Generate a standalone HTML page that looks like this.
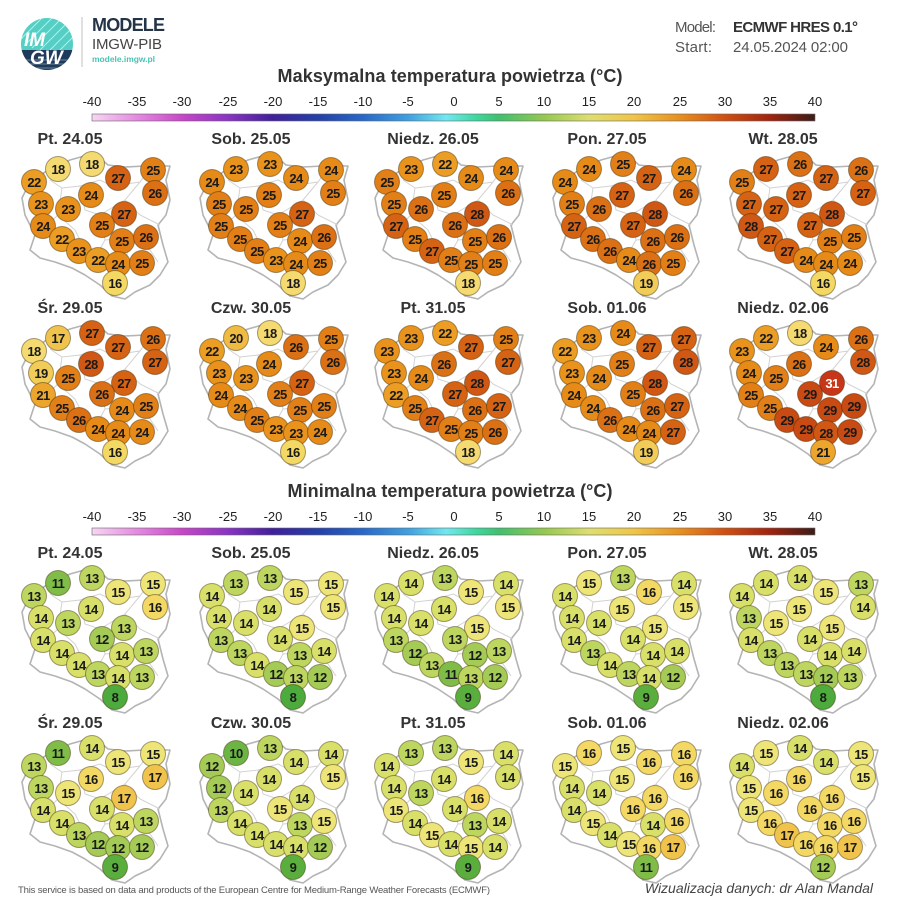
<!DOCTYPE html>
<html><head><meta charset="utf-8"><style>
html,body{margin:0;padding:0;background:#fff}
svg{display:block}
text{font-family:"Liberation Sans",sans-serif}
.t{font-weight:bold;font-size:16px;fill:#333;text-anchor:middle}
.v{font-weight:bold;font-size:13px;fill:#1a1a1a;text-anchor:middle;letter-spacing:-0.6px}
.lb{font-size:13px;fill:#222;text-anchor:middle}
circle{stroke:rgba(60,40,0,0.45);stroke-width:1}
.c8{fill:#4daa3c}.c9{fill:#5aae3e}.c10{fill:#6cb544}.c11{fill:#80bd48}.c12{fill:#a3cb55}.c13{fill:#bdd65f}.c14{fill:#d8e06a}.c15{fill:#eee578}.c16{fill:#f3d864}.c17{fill:#f0c44c}.c18{fill:#f4da70}.c19{fill:#f1cc58}.c20{fill:#efbb43}.c21{fill:#eca52d}.c22{fill:#eb9d24}.c23{fill:#e9931c}.c24{fill:#e68a18}.c25{fill:#e27f17}.c26{fill:#dc7015}.c27{fill:#d66214}.c28{fill:#d05814}.c29{fill:#c94a13}.c31{fill:#c8361a}
.pl{fill:#fff;stroke:#b4b4b4;stroke-width:1.6;stroke-linejoin:round}
.il{fill:none;stroke:#d2d2d2;stroke-width:1}
</style></head><body>
<svg width="900" height="900" viewBox="0 0 900 900" xmlns="http://www.w3.org/2000/svg">
<defs>
<linearGradient id="cb" x1="0" x2="1" y1="0" y2="0">
<stop offset="0" stop-color="#f6d6f2"/><stop offset="0.0625" stop-color="#e48ae0"/><stop offset="0.125" stop-color="#c846c8"/><stop offset="0.1875" stop-color="#8a34c4"/><stop offset="0.25" stop-color="#40209a"/><stop offset="0.3125" stop-color="#2440a8"/><stop offset="0.375" stop-color="#2868c8"/><stop offset="0.4375" stop-color="#40a0e0"/><stop offset="0.49" stop-color="#70e8f0"/><stop offset="0.53" stop-color="#40d8a0"/><stop offset="0.5625" stop-color="#40c070"/><stop offset="0.625" stop-color="#94c850"/><stop offset="0.6875" stop-color="#dede70"/><stop offset="0.75" stop-color="#f0c448"/><stop offset="0.8125" stop-color="#e89020"/><stop offset="0.875" stop-color="#d05012"/><stop offset="0.9375" stop-color="#a02410"/><stop offset="1" stop-color="#3c1c18"/>
</linearGradient>
<g id="pol">
<path class="pl" d="M28,186 L45,172 L70,160 L88,155 L100,158 L108,165 L125,167 L145,166 L170,166 L166,180 L170,200 L166,215 L158,225 L163,245 L168,262 L160,275 L150,285 L135,292 L125,299 L112,296 L100,285 L85,275 L72,268 L55,262 L40,258 L30,250 L35,235 L25,215 L22,198 Z"/>
<path class="il" d="M50,180 L62,188 L80,186 L100,180 L112,186 L140,182 L150,168 M62,188 L58,215 L40,232 M80,186 L85,210 L100,215 L125,200 L140,182 M100,215 L105,240 L95,258 M125,200 L140,215 L160,225 M105,240 L130,238 L150,250 L158,262 M58,215 L75,230 L85,250 L78,262 M130,238 L125,265 L118,290"/>
</g>
</defs>

<!-- header -->
<clipPath id="lc"><circle cx="47" cy="44" r="26"/></clipPath>
<g clip-path="url(#lc)">
<rect x="20" y="17" width="55" height="55" fill="#55cfc4"/>
<rect x="20" y="50" width="55" height="25" fill="#1f3b5c"/>
<g stroke="#fff" stroke-width="1" opacity="0.6"><line x1="20" y1="40" x2="45" y2="15"/><line x1="25" y1="45" x2="52" y2="18"/><line x1="32" y1="48" x2="62" y2="18"/><line x1="40" y1="50" x2="72" y2="18"/><line x1="50" y1="50" x2="78" y2="22"/><line x1="60" y1="50" x2="80" y2="30"/></g>
<g stroke="#fff" stroke-width="0.8" opacity="0.5"><line x1="20" y1="60" x2="75" y2="60"/><line x1="20" y1="64" x2="75" y2="64"/><line x1="20" y1="68" x2="75" y2="68"/></g>
</g>
<text x="24" y="46" font-size="19" font-weight="bold" fill="#fff" font-style="italic">IM</text>
<text x="30" y="64" font-size="19" font-weight="bold" fill="#fff" font-style="italic">GW</text>
<line x1="82" y1="17" x2="82" y2="67" stroke="#ccc" stroke-width="1.2"/>
<text x="92" y="31" font-size="18" font-weight="bold" fill="#243447" textLength="73">MODELE</text>
<text x="92" y="49" font-size="15" fill="#444" textLength="70">IMGW-PIB</text>
<text x="92" y="62" font-size="8.5" font-weight="bold" fill="#4cc3b5" textLength="63">modele.imgw.pl</text>
<text x="675" y="32" font-size="15" fill="#555" textLength="41">Model:</text>
<text x="733" y="32" font-size="15" font-weight="bold" fill="#333" textLength="125">ECMWF HRES 0.1°</text>
<text x="675" y="52" font-size="15" fill="#555" textLength="37">Start:</text>
<text x="733" y="52" font-size="15" fill="#555" textLength="115">24.05.2024 02:00</text>

<!-- max colorbar -->
<text x="450" y="82" font-size="18" font-weight="bold" fill="#333" text-anchor="middle" textLength="345">Maksymalna temperatura powietrza (°C)</text>
<g class="lb">
<text class="lb" x="92" y="106">-40</text><text class="lb" x="137" y="106">-35</text><text class="lb" x="182" y="106">-30</text><text class="lb" x="228" y="106">-25</text><text class="lb" x="273" y="106">-20</text><text class="lb" x="318" y="106">-15</text><text class="lb" x="363" y="106">-10</text><text class="lb" x="408" y="106">-5</text><text class="lb" x="454" y="106">0</text><text class="lb" x="499" y="106">5</text><text class="lb" x="544" y="106">10</text><text class="lb" x="589" y="106">15</text><text class="lb" x="634" y="106">20</text><text class="lb" x="680" y="106">25</text><text class="lb" x="725" y="106">30</text><text class="lb" x="770" y="106">35</text><text class="lb" x="815" y="106">40</text>
</g>
<rect x="92" y="114" width="723" height="7" fill="url(#cb)" stroke="#666" stroke-width="0.6"/>

<!-- min colorbar -->
<text x="450" y="497" font-size="18" font-weight="bold" fill="#333" text-anchor="middle" textLength="325">Minimalna temperatura powietrza (°C)</text>
<text class="lb" x="92" y="521">-40</text><text class="lb" x="137" y="521">-35</text><text class="lb" x="182" y="521">-30</text><text class="lb" x="228" y="521">-25</text><text class="lb" x="273" y="521">-20</text><text class="lb" x="318" y="521">-15</text><text class="lb" x="363" y="521">-10</text><text class="lb" x="408" y="521">-5</text><text class="lb" x="454" y="521">0</text><text class="lb" x="499" y="521">5</text><text class="lb" x="544" y="521">10</text><text class="lb" x="589" y="521">15</text><text class="lb" x="634" y="521">20</text><text class="lb" x="680" y="521">25</text><text class="lb" x="725" y="521">30</text><text class="lb" x="770" y="521">35</text><text class="lb" x="815" y="521">40</text>
<rect x="92" y="528" width="723" height="7" fill="url(#cb)" stroke="#666" stroke-width="0.6"/>

<!-- titles -->
<text class="t" x="70" y="144">Pt. 24.05</text><text class="t" x="251" y="144">Sob. 25.05</text><text class="t" x="433" y="144">Niedz. 26.05</text><text class="t" x="607" y="144">Pon. 27.05</text><text class="t" x="783" y="144">Wt. 28.05</text>
<text class="t" x="70" y="313">Śr. 29.05</text><text class="t" x="251" y="313">Czw. 30.05</text><text class="t" x="433" y="313">Pt. 31.05</text><text class="t" x="607" y="313">Sob. 01.06</text><text class="t" x="783" y="313">Niedz. 02.06</text>
<text class="t" x="70" y="558">Pt. 24.05</text><text class="t" x="251" y="558">Sob. 25.05</text><text class="t" x="433" y="558">Niedz. 26.05</text><text class="t" x="607" y="558">Pon. 27.05</text><text class="t" x="783" y="558">Wt. 28.05</text>
<text class="t" x="70" y="728">Śr. 29.05</text><text class="t" x="251" y="728">Czw. 30.05</text><text class="t" x="433" y="728">Pt. 31.05</text><text class="t" x="607" y="728">Sob. 01.06</text><text class="t" x="783" y="728">Niedz. 02.06</text>

<!-- ROW 0 MAX -->
<g transform="translate(0,0)"><use href="#pol"/>
<circle cx="58" cy="169" r="12.5" class="c18"/><text class="v" x="58" y="174">18</text>
<circle cx="92" cy="164" r="12.5" class="c18"/><text class="v" x="92" y="169">18</text>
<circle cx="34" cy="182" r="12.5" class="c22"/><text class="v" x="34" y="187">22</text>
<circle cx="118" cy="178" r="12.5" class="c27"/><text class="v" x="118" y="183">27</text>
<circle cx="153" cy="170" r="12.5" class="c25"/><text class="v" x="153" y="175">25</text>
<circle cx="155" cy="193" r="12.5" class="c26"/><text class="v" x="155" y="198">26</text>
<circle cx="91" cy="195" r="12.5" class="c24"/><text class="v" x="91" y="200">24</text>
<circle cx="41" cy="204" r="12.5" class="c23"/><text class="v" x="41" y="209">23</text>
<circle cx="68" cy="209" r="12.5" class="c23"/><text class="v" x="68" y="214">23</text>
<circle cx="124" cy="214" r="12.5" class="c27"/><text class="v" x="124" y="219">27</text>
<circle cx="43" cy="226" r="12.5" class="c24"/><text class="v" x="43" y="231">24</text>
<circle cx="102" cy="225" r="12.5" class="c25"/><text class="v" x="102" y="230">25</text>
<circle cx="62" cy="239" r="12.5" class="c22"/><text class="v" x="62" y="244">22</text>
<circle cx="122" cy="241" r="12.5" class="c25"/><text class="v" x="122" y="246">25</text>
<circle cx="146" cy="237" r="12.5" class="c26"/><text class="v" x="146" y="242">26</text>
<circle cx="79" cy="251" r="12.5" class="c23"/><text class="v" x="79" y="256">23</text>
<circle cx="98" cy="260" r="12.5" class="c22"/><text class="v" x="98" y="265">22</text>
<circle cx="118" cy="264" r="12.5" class="c24"/><text class="v" x="118" y="269">24</text>
<circle cx="142" cy="263" r="12.5" class="c25"/><text class="v" x="142" y="268">25</text>
<circle cx="115" cy="283" r="12.5" class="c16"/><text class="v" x="115" y="288">16</text>
</g>
<g transform="translate(178,0)"><use href="#pol"/>
<circle cx="58" cy="169" r="12.5" class="c23"/><text class="v" x="58" y="174">23</text>
<circle cx="92" cy="164" r="12.5" class="c23"/><text class="v" x="92" y="169">23</text>
<circle cx="34" cy="182" r="12.5" class="c24"/><text class="v" x="34" y="187">24</text>
<circle cx="118" cy="178" r="12.5" class="c24"/><text class="v" x="118" y="183">24</text>
<circle cx="153" cy="170" r="12.5" class="c24"/><text class="v" x="153" y="175">24</text>
<circle cx="155" cy="193" r="12.5" class="c25"/><text class="v" x="155" y="198">25</text>
<circle cx="91" cy="195" r="12.5" class="c25"/><text class="v" x="91" y="200">25</text>
<circle cx="41" cy="204" r="12.5" class="c25"/><text class="v" x="41" y="209">25</text>
<circle cx="68" cy="209" r="12.5" class="c25"/><text class="v" x="68" y="214">25</text>
<circle cx="124" cy="214" r="12.5" class="c27"/><text class="v" x="124" y="219">27</text>
<circle cx="43" cy="226" r="12.5" class="c25"/><text class="v" x="43" y="231">25</text>
<circle cx="102" cy="225" r="12.5" class="c25"/><text class="v" x="102" y="230">25</text>
<circle cx="62" cy="239" r="12.5" class="c25"/><text class="v" x="62" y="244">25</text>
<circle cx="122" cy="241" r="12.5" class="c24"/><text class="v" x="122" y="246">24</text>
<circle cx="146" cy="237" r="12.5" class="c26"/><text class="v" x="146" y="242">26</text>
<circle cx="79" cy="251" r="12.5" class="c25"/><text class="v" x="79" y="256">25</text>
<circle cx="98" cy="260" r="12.5" class="c23"/><text class="v" x="98" y="265">23</text>
<circle cx="118" cy="264" r="12.5" class="c24"/><text class="v" x="118" y="269">24</text>
<circle cx="142" cy="263" r="12.5" class="c25"/><text class="v" x="142" y="268">25</text>
<circle cx="115" cy="283" r="12.5" class="c18"/><text class="v" x="115" y="288">18</text>
</g>
<g transform="translate(353,0)"><use href="#pol"/>
<circle cx="58" cy="169" r="12.5" class="c23"/><text class="v" x="58" y="174">23</text>
<circle cx="92" cy="164" r="12.5" class="c22"/><text class="v" x="92" y="169">22</text>
<circle cx="34" cy="182" r="12.5" class="c25"/><text class="v" x="34" y="187">25</text>
<circle cx="118" cy="178" r="12.5" class="c24"/><text class="v" x="118" y="183">24</text>
<circle cx="153" cy="170" r="12.5" class="c24"/><text class="v" x="153" y="175">24</text>
<circle cx="155" cy="193" r="12.5" class="c26"/><text class="v" x="155" y="198">26</text>
<circle cx="91" cy="195" r="12.5" class="c25"/><text class="v" x="91" y="200">25</text>
<circle cx="41" cy="204" r="12.5" class="c25"/><text class="v" x="41" y="209">25</text>
<circle cx="68" cy="209" r="12.5" class="c26"/><text class="v" x="68" y="214">26</text>
<circle cx="124" cy="214" r="12.5" class="c28"/><text class="v" x="124" y="219">28</text>
<circle cx="43" cy="226" r="12.5" class="c27"/><text class="v" x="43" y="231">27</text>
<circle cx="102" cy="225" r="12.5" class="c26"/><text class="v" x="102" y="230">26</text>
<circle cx="62" cy="239" r="12.5" class="c25"/><text class="v" x="62" y="244">25</text>
<circle cx="122" cy="241" r="12.5" class="c25"/><text class="v" x="122" y="246">25</text>
<circle cx="146" cy="237" r="12.5" class="c26"/><text class="v" x="146" y="242">26</text>
<circle cx="79" cy="251" r="12.5" class="c27"/><text class="v" x="79" y="256">27</text>
<circle cx="98" cy="260" r="12.5" class="c25"/><text class="v" x="98" y="265">25</text>
<circle cx="118" cy="264" r="12.5" class="c25"/><text class="v" x="118" y="269">25</text>
<circle cx="142" cy="263" r="12.5" class="c25"/><text class="v" x="142" y="268">25</text>
<circle cx="115" cy="283" r="12.5" class="c18"/><text class="v" x="115" y="288">18</text>
</g>
<g transform="translate(531,0)"><use href="#pol"/>
<circle cx="58" cy="169" r="12.5" class="c24"/><text class="v" x="58" y="174">24</text>
<circle cx="92" cy="164" r="12.5" class="c25"/><text class="v" x="92" y="169">25</text>
<circle cx="34" cy="182" r="12.5" class="c24"/><text class="v" x="34" y="187">24</text>
<circle cx="118" cy="178" r="12.5" class="c27"/><text class="v" x="118" y="183">27</text>
<circle cx="153" cy="170" r="12.5" class="c24"/><text class="v" x="153" y="175">24</text>
<circle cx="155" cy="193" r="12.5" class="c26"/><text class="v" x="155" y="198">26</text>
<circle cx="91" cy="195" r="12.5" class="c27"/><text class="v" x="91" y="200">27</text>
<circle cx="41" cy="204" r="12.5" class="c25"/><text class="v" x="41" y="209">25</text>
<circle cx="68" cy="209" r="12.5" class="c26"/><text class="v" x="68" y="214">26</text>
<circle cx="124" cy="214" r="12.5" class="c28"/><text class="v" x="124" y="219">28</text>
<circle cx="43" cy="226" r="12.5" class="c27"/><text class="v" x="43" y="231">27</text>
<circle cx="102" cy="225" r="12.5" class="c27"/><text class="v" x="102" y="230">27</text>
<circle cx="62" cy="239" r="12.5" class="c26"/><text class="v" x="62" y="244">26</text>
<circle cx="122" cy="241" r="12.5" class="c26"/><text class="v" x="122" y="246">26</text>
<circle cx="146" cy="237" r="12.5" class="c26"/><text class="v" x="146" y="242">26</text>
<circle cx="79" cy="251" r="12.5" class="c26"/><text class="v" x="79" y="256">26</text>
<circle cx="98" cy="260" r="12.5" class="c24"/><text class="v" x="98" y="265">24</text>
<circle cx="118" cy="264" r="12.5" class="c26"/><text class="v" x="118" y="269">26</text>
<circle cx="142" cy="263" r="12.5" class="c25"/><text class="v" x="142" y="268">25</text>
<circle cx="115" cy="283" r="12.5" class="c19"/><text class="v" x="115" y="288">19</text>
</g>
<g transform="translate(708,0)"><use href="#pol"/>
<circle cx="58" cy="169" r="12.5" class="c27"/><text class="v" x="58" y="174">27</text>
<circle cx="92" cy="164" r="12.5" class="c26"/><text class="v" x="92" y="169">26</text>
<circle cx="34" cy="182" r="12.5" class="c25"/><text class="v" x="34" y="187">25</text>
<circle cx="118" cy="178" r="12.5" class="c27"/><text class="v" x="118" y="183">27</text>
<circle cx="153" cy="170" r="12.5" class="c26"/><text class="v" x="153" y="175">26</text>
<circle cx="155" cy="193" r="12.5" class="c27"/><text class="v" x="155" y="198">27</text>
<circle cx="91" cy="195" r="12.5" class="c27"/><text class="v" x="91" y="200">27</text>
<circle cx="41" cy="204" r="12.5" class="c27"/><text class="v" x="41" y="209">27</text>
<circle cx="68" cy="209" r="12.5" class="c27"/><text class="v" x="68" y="214">27</text>
<circle cx="124" cy="214" r="12.5" class="c28"/><text class="v" x="124" y="219">28</text>
<circle cx="43" cy="226" r="12.5" class="c28"/><text class="v" x="43" y="231">28</text>
<circle cx="102" cy="225" r="12.5" class="c27"/><text class="v" x="102" y="230">27</text>
<circle cx="62" cy="239" r="12.5" class="c27"/><text class="v" x="62" y="244">27</text>
<circle cx="122" cy="241" r="12.5" class="c25"/><text class="v" x="122" y="246">25</text>
<circle cx="146" cy="237" r="12.5" class="c25"/><text class="v" x="146" y="242">25</text>
<circle cx="79" cy="251" r="12.5" class="c27"/><text class="v" x="79" y="256">27</text>
<circle cx="98" cy="260" r="12.5" class="c24"/><text class="v" x="98" y="265">24</text>
<circle cx="118" cy="264" r="12.5" class="c24"/><text class="v" x="118" y="269">24</text>
<circle cx="142" cy="263" r="12.5" class="c24"/><text class="v" x="142" y="268">24</text>
<circle cx="115" cy="283" r="12.5" class="c16"/><text class="v" x="115" y="288">16</text>
</g>

<!-- ROW 1 MAX -->
<g transform="translate(0,169)"><use href="#pol"/>
<circle cx="58" cy="169" r="12.5" class="c17"/><text class="v" x="58" y="174">17</text>
<circle cx="92" cy="164" r="12.5" class="c27"/><text class="v" x="92" y="169">27</text>
<circle cx="34" cy="182" r="12.5" class="c18"/><text class="v" x="34" y="187">18</text>
<circle cx="118" cy="178" r="12.5" class="c27"/><text class="v" x="118" y="183">27</text>
<circle cx="153" cy="170" r="12.5" class="c26"/><text class="v" x="153" y="175">26</text>
<circle cx="155" cy="193" r="12.5" class="c27"/><text class="v" x="155" y="198">27</text>
<circle cx="91" cy="195" r="12.5" class="c28"/><text class="v" x="91" y="200">28</text>
<circle cx="41" cy="204" r="12.5" class="c19"/><text class="v" x="41" y="209">19</text>
<circle cx="68" cy="209" r="12.5" class="c25"/><text class="v" x="68" y="214">25</text>
<circle cx="124" cy="214" r="12.5" class="c27"/><text class="v" x="124" y="219">27</text>
<circle cx="43" cy="226" r="12.5" class="c21"/><text class="v" x="43" y="231">21</text>
<circle cx="102" cy="225" r="12.5" class="c26"/><text class="v" x="102" y="230">26</text>
<circle cx="62" cy="239" r="12.5" class="c25"/><text class="v" x="62" y="244">25</text>
<circle cx="122" cy="241" r="12.5" class="c24"/><text class="v" x="122" y="246">24</text>
<circle cx="146" cy="237" r="12.5" class="c25"/><text class="v" x="146" y="242">25</text>
<circle cx="79" cy="251" r="12.5" class="c26"/><text class="v" x="79" y="256">26</text>
<circle cx="98" cy="260" r="12.5" class="c24"/><text class="v" x="98" y="265">24</text>
<circle cx="118" cy="264" r="12.5" class="c24"/><text class="v" x="118" y="269">24</text>
<circle cx="142" cy="263" r="12.5" class="c24"/><text class="v" x="142" y="268">24</text>
<circle cx="115" cy="283" r="12.5" class="c16"/><text class="v" x="115" y="288">16</text>
</g>
<g transform="translate(178,169)"><use href="#pol"/>
<circle cx="58" cy="169" r="12.5" class="c20"/><text class="v" x="58" y="174">20</text>
<circle cx="92" cy="164" r="12.5" class="c18"/><text class="v" x="92" y="169">18</text>
<circle cx="34" cy="182" r="12.5" class="c22"/><text class="v" x="34" y="187">22</text>
<circle cx="118" cy="178" r="12.5" class="c26"/><text class="v" x="118" y="183">26</text>
<circle cx="153" cy="170" r="12.5" class="c25"/><text class="v" x="153" y="175">25</text>
<circle cx="155" cy="193" r="12.5" class="c26"/><text class="v" x="155" y="198">26</text>
<circle cx="91" cy="195" r="12.5" class="c24"/><text class="v" x="91" y="200">24</text>
<circle cx="41" cy="204" r="12.5" class="c23"/><text class="v" x="41" y="209">23</text>
<circle cx="68" cy="209" r="12.5" class="c23"/><text class="v" x="68" y="214">23</text>
<circle cx="124" cy="214" r="12.5" class="c27"/><text class="v" x="124" y="219">27</text>
<circle cx="43" cy="226" r="12.5" class="c24"/><text class="v" x="43" y="231">24</text>
<circle cx="102" cy="225" r="12.5" class="c25"/><text class="v" x="102" y="230">25</text>
<circle cx="62" cy="239" r="12.5" class="c24"/><text class="v" x="62" y="244">24</text>
<circle cx="122" cy="241" r="12.5" class="c25"/><text class="v" x="122" y="246">25</text>
<circle cx="146" cy="237" r="12.5" class="c25"/><text class="v" x="146" y="242">25</text>
<circle cx="79" cy="251" r="12.5" class="c25"/><text class="v" x="79" y="256">25</text>
<circle cx="98" cy="260" r="12.5" class="c23"/><text class="v" x="98" y="265">23</text>
<circle cx="118" cy="264" r="12.5" class="c23"/><text class="v" x="118" y="269">23</text>
<circle cx="142" cy="263" r="12.5" class="c24"/><text class="v" x="142" y="268">24</text>
<circle cx="115" cy="283" r="12.5" class="c16"/><text class="v" x="115" y="288">16</text>
</g>
<g transform="translate(353,169)"><use href="#pol"/>
<circle cx="58" cy="169" r="12.5" class="c23"/><text class="v" x="58" y="174">23</text>
<circle cx="92" cy="164" r="12.5" class="c22"/><text class="v" x="92" y="169">22</text>
<circle cx="34" cy="182" r="12.5" class="c23"/><text class="v" x="34" y="187">23</text>
<circle cx="118" cy="178" r="12.5" class="c27"/><text class="v" x="118" y="183">27</text>
<circle cx="153" cy="170" r="12.5" class="c25"/><text class="v" x="153" y="175">25</text>
<circle cx="155" cy="193" r="12.5" class="c27"/><text class="v" x="155" y="198">27</text>
<circle cx="91" cy="195" r="12.5" class="c26"/><text class="v" x="91" y="200">26</text>
<circle cx="41" cy="204" r="12.5" class="c23"/><text class="v" x="41" y="209">23</text>
<circle cx="68" cy="209" r="12.5" class="c24"/><text class="v" x="68" y="214">24</text>
<circle cx="124" cy="214" r="12.5" class="c28"/><text class="v" x="124" y="219">28</text>
<circle cx="43" cy="226" r="12.5" class="c22"/><text class="v" x="43" y="231">22</text>
<circle cx="102" cy="225" r="12.5" class="c27"/><text class="v" x="102" y="230">27</text>
<circle cx="62" cy="239" r="12.5" class="c25"/><text class="v" x="62" y="244">25</text>
<circle cx="122" cy="241" r="12.5" class="c26"/><text class="v" x="122" y="246">26</text>
<circle cx="146" cy="237" r="12.5" class="c27"/><text class="v" x="146" y="242">27</text>
<circle cx="79" cy="251" r="12.5" class="c27"/><text class="v" x="79" y="256">27</text>
<circle cx="98" cy="260" r="12.5" class="c25"/><text class="v" x="98" y="265">25</text>
<circle cx="118" cy="264" r="12.5" class="c25"/><text class="v" x="118" y="269">25</text>
<circle cx="142" cy="263" r="12.5" class="c26"/><text class="v" x="142" y="268">26</text>
<circle cx="115" cy="283" r="12.5" class="c18"/><text class="v" x="115" y="288">18</text>
</g>
<g transform="translate(531,169)"><use href="#pol"/>
<circle cx="58" cy="169" r="12.5" class="c23"/><text class="v" x="58" y="174">23</text>
<circle cx="92" cy="164" r="12.5" class="c24"/><text class="v" x="92" y="169">24</text>
<circle cx="34" cy="182" r="12.5" class="c22"/><text class="v" x="34" y="187">22</text>
<circle cx="118" cy="178" r="12.5" class="c27"/><text class="v" x="118" y="183">27</text>
<circle cx="153" cy="170" r="12.5" class="c27"/><text class="v" x="153" y="175">27</text>
<circle cx="155" cy="193" r="12.5" class="c28"/><text class="v" x="155" y="198">28</text>
<circle cx="91" cy="195" r="12.5" class="c25"/><text class="v" x="91" y="200">25</text>
<circle cx="41" cy="204" r="12.5" class="c23"/><text class="v" x="41" y="209">23</text>
<circle cx="68" cy="209" r="12.5" class="c24"/><text class="v" x="68" y="214">24</text>
<circle cx="124" cy="214" r="12.5" class="c28"/><text class="v" x="124" y="219">28</text>
<circle cx="43" cy="226" r="12.5" class="c24"/><text class="v" x="43" y="231">24</text>
<circle cx="102" cy="225" r="12.5" class="c25"/><text class="v" x="102" y="230">25</text>
<circle cx="62" cy="239" r="12.5" class="c24"/><text class="v" x="62" y="244">24</text>
<circle cx="122" cy="241" r="12.5" class="c26"/><text class="v" x="122" y="246">26</text>
<circle cx="146" cy="237" r="12.5" class="c27"/><text class="v" x="146" y="242">27</text>
<circle cx="79" cy="251" r="12.5" class="c26"/><text class="v" x="79" y="256">26</text>
<circle cx="98" cy="260" r="12.5" class="c24"/><text class="v" x="98" y="265">24</text>
<circle cx="118" cy="264" r="12.5" class="c24"/><text class="v" x="118" y="269">24</text>
<circle cx="142" cy="263" r="12.5" class="c27"/><text class="v" x="142" y="268">27</text>
<circle cx="115" cy="283" r="12.5" class="c19"/><text class="v" x="115" y="288">19</text>
</g>
<g transform="translate(708,169)"><use href="#pol"/>
<circle cx="58" cy="169" r="12.5" class="c22"/><text class="v" x="58" y="174">22</text>
<circle cx="92" cy="164" r="12.5" class="c18"/><text class="v" x="92" y="169">18</text>
<circle cx="34" cy="182" r="12.5" class="c23"/><text class="v" x="34" y="187">23</text>
<circle cx="118" cy="178" r="12.5" class="c24"/><text class="v" x="118" y="183">24</text>
<circle cx="153" cy="170" r="12.5" class="c26"/><text class="v" x="153" y="175">26</text>
<circle cx="155" cy="193" r="12.5" class="c28"/><text class="v" x="155" y="198">28</text>
<circle cx="91" cy="195" r="12.5" class="c26"/><text class="v" x="91" y="200">26</text>
<circle cx="41" cy="204" r="12.5" class="c24"/><text class="v" x="41" y="209">24</text>
<circle cx="68" cy="209" r="12.5" class="c25"/><text class="v" x="68" y="214">25</text>
<circle cx="124" cy="214" r="12.5" class="c31"/><text class="v" x="124" y="219" fill="#fff" style="fill:#fff">31</text>
<circle cx="43" cy="226" r="12.5" class="c25"/><text class="v" x="43" y="231">25</text>
<circle cx="102" cy="225" r="12.5" class="c29"/><text class="v" x="102" y="230">29</text>
<circle cx="62" cy="239" r="12.5" class="c25"/><text class="v" x="62" y="244">25</text>
<circle cx="122" cy="241" r="12.5" class="c29"/><text class="v" x="122" y="246">29</text>
<circle cx="146" cy="237" r="12.5" class="c29"/><text class="v" x="146" y="242">29</text>
<circle cx="79" cy="251" r="12.5" class="c29"/><text class="v" x="79" y="256">29</text>
<circle cx="98" cy="260" r="12.5" class="c29"/><text class="v" x="98" y="265">29</text>
<circle cx="118" cy="264" r="12.5" class="c28"/><text class="v" x="118" y="269">28</text>
<circle cx="142" cy="263" r="12.5" class="c29"/><text class="v" x="142" y="268">29</text>
<circle cx="115" cy="283" r="12.5" class="c21"/><text class="v" x="115" y="288">21</text>
</g>

<!-- ROW 2 MIN -->
<g transform="translate(0,414)"><use href="#pol"/>
<circle cx="58" cy="169" r="12.5" class="c11"/><text class="v" x="58" y="174">11</text>
<circle cx="92" cy="164" r="12.5" class="c13"/><text class="v" x="92" y="169">13</text>
<circle cx="34" cy="182" r="12.5" class="c13"/><text class="v" x="34" y="187">13</text>
<circle cx="118" cy="178" r="12.5" class="c15"/><text class="v" x="118" y="183">15</text>
<circle cx="153" cy="170" r="12.5" class="c15"/><text class="v" x="153" y="175">15</text>
<circle cx="155" cy="193" r="12.5" class="c16"/><text class="v" x="155" y="198">16</text>
<circle cx="91" cy="195" r="12.5" class="c14"/><text class="v" x="91" y="200">14</text>
<circle cx="41" cy="204" r="12.5" class="c14"/><text class="v" x="41" y="209">14</text>
<circle cx="68" cy="209" r="12.5" class="c13"/><text class="v" x="68" y="214">13</text>
<circle cx="124" cy="214" r="12.5" class="c13"/><text class="v" x="124" y="219">13</text>
<circle cx="43" cy="226" r="12.5" class="c14"/><text class="v" x="43" y="231">14</text>
<circle cx="102" cy="225" r="12.5" class="c12"/><text class="v" x="102" y="230">12</text>
<circle cx="62" cy="239" r="12.5" class="c14"/><text class="v" x="62" y="244">14</text>
<circle cx="122" cy="241" r="12.5" class="c14"/><text class="v" x="122" y="246">14</text>
<circle cx="146" cy="237" r="12.5" class="c13"/><text class="v" x="146" y="242">13</text>
<circle cx="79" cy="251" r="12.5" class="c14"/><text class="v" x="79" y="256">14</text>
<circle cx="98" cy="260" r="12.5" class="c13"/><text class="v" x="98" y="265">13</text>
<circle cx="118" cy="264" r="12.5" class="c14"/><text class="v" x="118" y="269">14</text>
<circle cx="142" cy="263" r="12.5" class="c13"/><text class="v" x="142" y="268">13</text>
<circle cx="115" cy="283" r="12.5" class="c8"/><text class="v" x="115" y="288">8</text>
</g>
<g transform="translate(178,414)"><use href="#pol"/>
<circle cx="58" cy="169" r="12.5" class="c13"/><text class="v" x="58" y="174">13</text>
<circle cx="92" cy="164" r="12.5" class="c13"/><text class="v" x="92" y="169">13</text>
<circle cx="34" cy="182" r="12.5" class="c14"/><text class="v" x="34" y="187">14</text>
<circle cx="118" cy="178" r="12.5" class="c15"/><text class="v" x="118" y="183">15</text>
<circle cx="153" cy="170" r="12.5" class="c15"/><text class="v" x="153" y="175">15</text>
<circle cx="155" cy="193" r="12.5" class="c15"/><text class="v" x="155" y="198">15</text>
<circle cx="91" cy="195" r="12.5" class="c14"/><text class="v" x="91" y="200">14</text>
<circle cx="41" cy="204" r="12.5" class="c14"/><text class="v" x="41" y="209">14</text>
<circle cx="68" cy="209" r="12.5" class="c14"/><text class="v" x="68" y="214">14</text>
<circle cx="124" cy="214" r="12.5" class="c15"/><text class="v" x="124" y="219">15</text>
<circle cx="43" cy="226" r="12.5" class="c13"/><text class="v" x="43" y="231">13</text>
<circle cx="102" cy="225" r="12.5" class="c14"/><text class="v" x="102" y="230">14</text>
<circle cx="62" cy="239" r="12.5" class="c13"/><text class="v" x="62" y="244">13</text>
<circle cx="122" cy="241" r="12.5" class="c13"/><text class="v" x="122" y="246">13</text>
<circle cx="146" cy="237" r="12.5" class="c14"/><text class="v" x="146" y="242">14</text>
<circle cx="79" cy="251" r="12.5" class="c14"/><text class="v" x="79" y="256">14</text>
<circle cx="98" cy="260" r="12.5" class="c12"/><text class="v" x="98" y="265">12</text>
<circle cx="118" cy="264" r="12.5" class="c13"/><text class="v" x="118" y="269">13</text>
<circle cx="142" cy="263" r="12.5" class="c12"/><text class="v" x="142" y="268">12</text>
<circle cx="115" cy="283" r="12.5" class="c8"/><text class="v" x="115" y="288">8</text>
</g>
<g transform="translate(353,414)"><use href="#pol"/>
<circle cx="58" cy="169" r="12.5" class="c14"/><text class="v" x="58" y="174">14</text>
<circle cx="92" cy="164" r="12.5" class="c13"/><text class="v" x="92" y="169">13</text>
<circle cx="34" cy="182" r="12.5" class="c14"/><text class="v" x="34" y="187">14</text>
<circle cx="118" cy="178" r="12.5" class="c15"/><text class="v" x="118" y="183">15</text>
<circle cx="153" cy="170" r="12.5" class="c14"/><text class="v" x="153" y="175">14</text>
<circle cx="155" cy="193" r="12.5" class="c15"/><text class="v" x="155" y="198">15</text>
<circle cx="91" cy="195" r="12.5" class="c14"/><text class="v" x="91" y="200">14</text>
<circle cx="41" cy="204" r="12.5" class="c14"/><text class="v" x="41" y="209">14</text>
<circle cx="68" cy="209" r="12.5" class="c14"/><text class="v" x="68" y="214">14</text>
<circle cx="124" cy="214" r="12.5" class="c15"/><text class="v" x="124" y="219">15</text>
<circle cx="43" cy="226" r="12.5" class="c13"/><text class="v" x="43" y="231">13</text>
<circle cx="102" cy="225" r="12.5" class="c13"/><text class="v" x="102" y="230">13</text>
<circle cx="62" cy="239" r="12.5" class="c12"/><text class="v" x="62" y="244">12</text>
<circle cx="122" cy="241" r="12.5" class="c12"/><text class="v" x="122" y="246">12</text>
<circle cx="146" cy="237" r="12.5" class="c13"/><text class="v" x="146" y="242">13</text>
<circle cx="79" cy="251" r="12.5" class="c13"/><text class="v" x="79" y="256">13</text>
<circle cx="98" cy="260" r="12.5" class="c11"/><text class="v" x="98" y="265">11</text>
<circle cx="118" cy="264" r="12.5" class="c13"/><text class="v" x="118" y="269">13</text>
<circle cx="142" cy="263" r="12.5" class="c12"/><text class="v" x="142" y="268">12</text>
<circle cx="115" cy="283" r="12.5" class="c9"/><text class="v" x="115" y="288">9</text>
</g>
<g transform="translate(531,414)"><use href="#pol"/>
<circle cx="58" cy="169" r="12.5" class="c15"/><text class="v" x="58" y="174">15</text>
<circle cx="92" cy="164" r="12.5" class="c13"/><text class="v" x="92" y="169">13</text>
<circle cx="34" cy="182" r="12.5" class="c14"/><text class="v" x="34" y="187">14</text>
<circle cx="118" cy="178" r="12.5" class="c16"/><text class="v" x="118" y="183">16</text>
<circle cx="153" cy="170" r="12.5" class="c14"/><text class="v" x="153" y="175">14</text>
<circle cx="155" cy="193" r="12.5" class="c15"/><text class="v" x="155" y="198">15</text>
<circle cx="91" cy="195" r="12.5" class="c15"/><text class="v" x="91" y="200">15</text>
<circle cx="41" cy="204" r="12.5" class="c14"/><text class="v" x="41" y="209">14</text>
<circle cx="68" cy="209" r="12.5" class="c14"/><text class="v" x="68" y="214">14</text>
<circle cx="124" cy="214" r="12.5" class="c15"/><text class="v" x="124" y="219">15</text>
<circle cx="43" cy="226" r="12.5" class="c14"/><text class="v" x="43" y="231">14</text>
<circle cx="102" cy="225" r="12.5" class="c14"/><text class="v" x="102" y="230">14</text>
<circle cx="62" cy="239" r="12.5" class="c13"/><text class="v" x="62" y="244">13</text>
<circle cx="122" cy="241" r="12.5" class="c14"/><text class="v" x="122" y="246">14</text>
<circle cx="146" cy="237" r="12.5" class="c14"/><text class="v" x="146" y="242">14</text>
<circle cx="79" cy="251" r="12.5" class="c14"/><text class="v" x="79" y="256">14</text>
<circle cx="98" cy="260" r="12.5" class="c13"/><text class="v" x="98" y="265">13</text>
<circle cx="118" cy="264" r="12.5" class="c14"/><text class="v" x="118" y="269">14</text>
<circle cx="142" cy="263" r="12.5" class="c12"/><text class="v" x="142" y="268">12</text>
<circle cx="115" cy="283" r="12.5" class="c9"/><text class="v" x="115" y="288">9</text>
</g>
<g transform="translate(708,414)"><use href="#pol"/>
<circle cx="58" cy="169" r="12.5" class="c14"/><text class="v" x="58" y="174">14</text>
<circle cx="92" cy="164" r="12.5" class="c14"/><text class="v" x="92" y="169">14</text>
<circle cx="34" cy="182" r="12.5" class="c14"/><text class="v" x="34" y="187">14</text>
<circle cx="118" cy="178" r="12.5" class="c15"/><text class="v" x="118" y="183">15</text>
<circle cx="153" cy="170" r="12.5" class="c13"/><text class="v" x="153" y="175">13</text>
<circle cx="155" cy="193" r="12.5" class="c14"/><text class="v" x="155" y="198">14</text>
<circle cx="91" cy="195" r="12.5" class="c15"/><text class="v" x="91" y="200">15</text>
<circle cx="41" cy="204" r="12.5" class="c13"/><text class="v" x="41" y="209">13</text>
<circle cx="68" cy="209" r="12.5" class="c15"/><text class="v" x="68" y="214">15</text>
<circle cx="124" cy="214" r="12.5" class="c15"/><text class="v" x="124" y="219">15</text>
<circle cx="43" cy="226" r="12.5" class="c14"/><text class="v" x="43" y="231">14</text>
<circle cx="102" cy="225" r="12.5" class="c14"/><text class="v" x="102" y="230">14</text>
<circle cx="62" cy="239" r="12.5" class="c13"/><text class="v" x="62" y="244">13</text>
<circle cx="122" cy="241" r="12.5" class="c14"/><text class="v" x="122" y="246">14</text>
<circle cx="146" cy="237" r="12.5" class="c14"/><text class="v" x="146" y="242">14</text>
<circle cx="79" cy="251" r="12.5" class="c13"/><text class="v" x="79" y="256">13</text>
<circle cx="98" cy="260" r="12.5" class="c13"/><text class="v" x="98" y="265">13</text>
<circle cx="118" cy="264" r="12.5" class="c12"/><text class="v" x="118" y="269">12</text>
<circle cx="142" cy="263" r="12.5" class="c13"/><text class="v" x="142" y="268">13</text>
<circle cx="115" cy="283" r="12.5" class="c8"/><text class="v" x="115" y="288">8</text>
</g>

<!-- ROW 3 MIN -->
<g transform="translate(0,584)"><use href="#pol"/>
<circle cx="58" cy="169" r="12.5" class="c11"/><text class="v" x="58" y="174">11</text>
<circle cx="92" cy="164" r="12.5" class="c14"/><text class="v" x="92" y="169">14</text>
<circle cx="34" cy="182" r="12.5" class="c13"/><text class="v" x="34" y="187">13</text>
<circle cx="118" cy="178" r="12.5" class="c15"/><text class="v" x="118" y="183">15</text>
<circle cx="153" cy="170" r="12.5" class="c15"/><text class="v" x="153" y="175">15</text>
<circle cx="155" cy="193" r="12.5" class="c17"/><text class="v" x="155" y="198">17</text>
<circle cx="91" cy="195" r="12.5" class="c16"/><text class="v" x="91" y="200">16</text>
<circle cx="41" cy="204" r="12.5" class="c13"/><text class="v" x="41" y="209">13</text>
<circle cx="68" cy="209" r="12.5" class="c15"/><text class="v" x="68" y="214">15</text>
<circle cx="124" cy="214" r="12.5" class="c17"/><text class="v" x="124" y="219">17</text>
<circle cx="43" cy="226" r="12.5" class="c14"/><text class="v" x="43" y="231">14</text>
<circle cx="102" cy="225" r="12.5" class="c14"/><text class="v" x="102" y="230">14</text>
<circle cx="62" cy="239" r="12.5" class="c14"/><text class="v" x="62" y="244">14</text>
<circle cx="122" cy="241" r="12.5" class="c14"/><text class="v" x="122" y="246">14</text>
<circle cx="146" cy="237" r="12.5" class="c13"/><text class="v" x="146" y="242">13</text>
<circle cx="79" cy="251" r="12.5" class="c13"/><text class="v" x="79" y="256">13</text>
<circle cx="98" cy="260" r="12.5" class="c12"/><text class="v" x="98" y="265">12</text>
<circle cx="118" cy="264" r="12.5" class="c12"/><text class="v" x="118" y="269">12</text>
<circle cx="142" cy="263" r="12.5" class="c12"/><text class="v" x="142" y="268">12</text>
<circle cx="115" cy="283" r="12.5" class="c9"/><text class="v" x="115" y="288">9</text>
</g>
<g transform="translate(178,584)"><use href="#pol"/>
<circle cx="58" cy="169" r="12.5" class="c10"/><text class="v" x="58" y="174">10</text>
<circle cx="92" cy="164" r="12.5" class="c13"/><text class="v" x="92" y="169">13</text>
<circle cx="34" cy="182" r="12.5" class="c12"/><text class="v" x="34" y="187">12</text>
<circle cx="118" cy="178" r="12.5" class="c14"/><text class="v" x="118" y="183">14</text>
<circle cx="153" cy="170" r="12.5" class="c14"/><text class="v" x="153" y="175">14</text>
<circle cx="155" cy="193" r="12.5" class="c15"/><text class="v" x="155" y="198">15</text>
<circle cx="91" cy="195" r="12.5" class="c14"/><text class="v" x="91" y="200">14</text>
<circle cx="41" cy="204" r="12.5" class="c12"/><text class="v" x="41" y="209">12</text>
<circle cx="68" cy="209" r="12.5" class="c14"/><text class="v" x="68" y="214">14</text>
<circle cx="124" cy="214" r="12.5" class="c14"/><text class="v" x="124" y="219">14</text>
<circle cx="43" cy="226" r="12.5" class="c13"/><text class="v" x="43" y="231">13</text>
<circle cx="102" cy="225" r="12.5" class="c15"/><text class="v" x="102" y="230">15</text>
<circle cx="62" cy="239" r="12.5" class="c14"/><text class="v" x="62" y="244">14</text>
<circle cx="122" cy="241" r="12.5" class="c13"/><text class="v" x="122" y="246">13</text>
<circle cx="146" cy="237" r="12.5" class="c15"/><text class="v" x="146" y="242">15</text>
<circle cx="79" cy="251" r="12.5" class="c14"/><text class="v" x="79" y="256">14</text>
<circle cx="98" cy="260" r="12.5" class="c14"/><text class="v" x="98" y="265">14</text>
<circle cx="118" cy="264" r="12.5" class="c14"/><text class="v" x="118" y="269">14</text>
<circle cx="142" cy="263" r="12.5" class="c12"/><text class="v" x="142" y="268">12</text>
<circle cx="115" cy="283" r="12.5" class="c9"/><text class="v" x="115" y="288">9</text>
</g>
<g transform="translate(353,584)"><use href="#pol"/>
<circle cx="58" cy="169" r="12.5" class="c13"/><text class="v" x="58" y="174">13</text>
<circle cx="92" cy="164" r="12.5" class="c13"/><text class="v" x="92" y="169">13</text>
<circle cx="34" cy="182" r="12.5" class="c14"/><text class="v" x="34" y="187">14</text>
<circle cx="118" cy="178" r="12.5" class="c15"/><text class="v" x="118" y="183">15</text>
<circle cx="153" cy="170" r="12.5" class="c14"/><text class="v" x="153" y="175">14</text>
<circle cx="155" cy="193" r="12.5" class="c14"/><text class="v" x="155" y="198">14</text>
<circle cx="91" cy="195" r="12.5" class="c14"/><text class="v" x="91" y="200">14</text>
<circle cx="41" cy="204" r="12.5" class="c14"/><text class="v" x="41" y="209">14</text>
<circle cx="68" cy="209" r="12.5" class="c13"/><text class="v" x="68" y="214">13</text>
<circle cx="124" cy="214" r="12.5" class="c16"/><text class="v" x="124" y="219">16</text>
<circle cx="43" cy="226" r="12.5" class="c15"/><text class="v" x="43" y="231">15</text>
<circle cx="102" cy="225" r="12.5" class="c14"/><text class="v" x="102" y="230">14</text>
<circle cx="62" cy="239" r="12.5" class="c14"/><text class="v" x="62" y="244">14</text>
<circle cx="122" cy="241" r="12.5" class="c13"/><text class="v" x="122" y="246">13</text>
<circle cx="146" cy="237" r="12.5" class="c14"/><text class="v" x="146" y="242">14</text>
<circle cx="79" cy="251" r="12.5" class="c15"/><text class="v" x="79" y="256">15</text>
<circle cx="98" cy="260" r="12.5" class="c14"/><text class="v" x="98" y="265">14</text>
<circle cx="118" cy="264" r="12.5" class="c15"/><text class="v" x="118" y="269">15</text>
<circle cx="142" cy="263" r="12.5" class="c14"/><text class="v" x="142" y="268">14</text>
<circle cx="115" cy="283" r="12.5" class="c9"/><text class="v" x="115" y="288">9</text>
</g>
<g transform="translate(531,584)"><use href="#pol"/>
<circle cx="58" cy="169" r="12.5" class="c16"/><text class="v" x="58" y="174">16</text>
<circle cx="92" cy="164" r="12.5" class="c15"/><text class="v" x="92" y="169">15</text>
<circle cx="34" cy="182" r="12.5" class="c15"/><text class="v" x="34" y="187">15</text>
<circle cx="118" cy="178" r="12.5" class="c16"/><text class="v" x="118" y="183">16</text>
<circle cx="153" cy="170" r="12.5" class="c16"/><text class="v" x="153" y="175">16</text>
<circle cx="155" cy="193" r="12.5" class="c16"/><text class="v" x="155" y="198">16</text>
<circle cx="91" cy="195" r="12.5" class="c15"/><text class="v" x="91" y="200">15</text>
<circle cx="41" cy="204" r="12.5" class="c14"/><text class="v" x="41" y="209">14</text>
<circle cx="68" cy="209" r="12.5" class="c14"/><text class="v" x="68" y="214">14</text>
<circle cx="124" cy="214" r="12.5" class="c16"/><text class="v" x="124" y="219">16</text>
<circle cx="43" cy="226" r="12.5" class="c14"/><text class="v" x="43" y="231">14</text>
<circle cx="102" cy="225" r="12.5" class="c16"/><text class="v" x="102" y="230">16</text>
<circle cx="62" cy="239" r="12.5" class="c15"/><text class="v" x="62" y="244">15</text>
<circle cx="122" cy="241" r="12.5" class="c14"/><text class="v" x="122" y="246">14</text>
<circle cx="146" cy="237" r="12.5" class="c16"/><text class="v" x="146" y="242">16</text>
<circle cx="79" cy="251" r="12.5" class="c14"/><text class="v" x="79" y="256">14</text>
<circle cx="98" cy="260" r="12.5" class="c15"/><text class="v" x="98" y="265">15</text>
<circle cx="118" cy="264" r="12.5" class="c16"/><text class="v" x="118" y="269">16</text>
<circle cx="142" cy="263" r="12.5" class="c17"/><text class="v" x="142" y="268">17</text>
<circle cx="115" cy="283" r="12.5" class="c11"/><text class="v" x="115" y="288">11</text>
</g>
<g transform="translate(708,584)"><use href="#pol"/>
<circle cx="58" cy="169" r="12.5" class="c15"/><text class="v" x="58" y="174">15</text>
<circle cx="92" cy="164" r="12.5" class="c14"/><text class="v" x="92" y="169">14</text>
<circle cx="34" cy="182" r="12.5" class="c14"/><text class="v" x="34" y="187">14</text>
<circle cx="118" cy="178" r="12.5" class="c14"/><text class="v" x="118" y="183">14</text>
<circle cx="153" cy="170" r="12.5" class="c15"/><text class="v" x="153" y="175">15</text>
<circle cx="155" cy="193" r="12.5" class="c15"/><text class="v" x="155" y="198">15</text>
<circle cx="91" cy="195" r="12.5" class="c16"/><text class="v" x="91" y="200">16</text>
<circle cx="41" cy="204" r="12.5" class="c15"/><text class="v" x="41" y="209">15</text>
<circle cx="68" cy="209" r="12.5" class="c16"/><text class="v" x="68" y="214">16</text>
<circle cx="124" cy="214" r="12.5" class="c16"/><text class="v" x="124" y="219">16</text>
<circle cx="43" cy="226" r="12.5" class="c15"/><text class="v" x="43" y="231">15</text>
<circle cx="102" cy="225" r="12.5" class="c16"/><text class="v" x="102" y="230">16</text>
<circle cx="62" cy="239" r="12.5" class="c16"/><text class="v" x="62" y="244">16</text>
<circle cx="122" cy="241" r="12.5" class="c16"/><text class="v" x="122" y="246">16</text>
<circle cx="146" cy="237" r="12.5" class="c16"/><text class="v" x="146" y="242">16</text>
<circle cx="79" cy="251" r="12.5" class="c17"/><text class="v" x="79" y="256">17</text>
<circle cx="98" cy="260" r="12.5" class="c16"/><text class="v" x="98" y="265">16</text>
<circle cx="118" cy="264" r="12.5" class="c16"/><text class="v" x="118" y="269">16</text>
<circle cx="142" cy="263" r="12.5" class="c17"/><text class="v" x="142" y="268">17</text>
<circle cx="115" cy="283" r="12.5" class="c12"/><text class="v" x="115" y="288">12</text>
</g>

<!-- footer -->
<text x="18" y="893" font-size="9.5" fill="#555" textLength="472">This service is based on data and products of the European Centre for Medium-Range Weather Forecasts (ECMWF)</text>
<text x="873" y="893" font-size="14" font-style="italic" fill="#444" text-anchor="end">Wizualizacja danych: dr Alan Mandal</text>
</svg>
</body></html>
